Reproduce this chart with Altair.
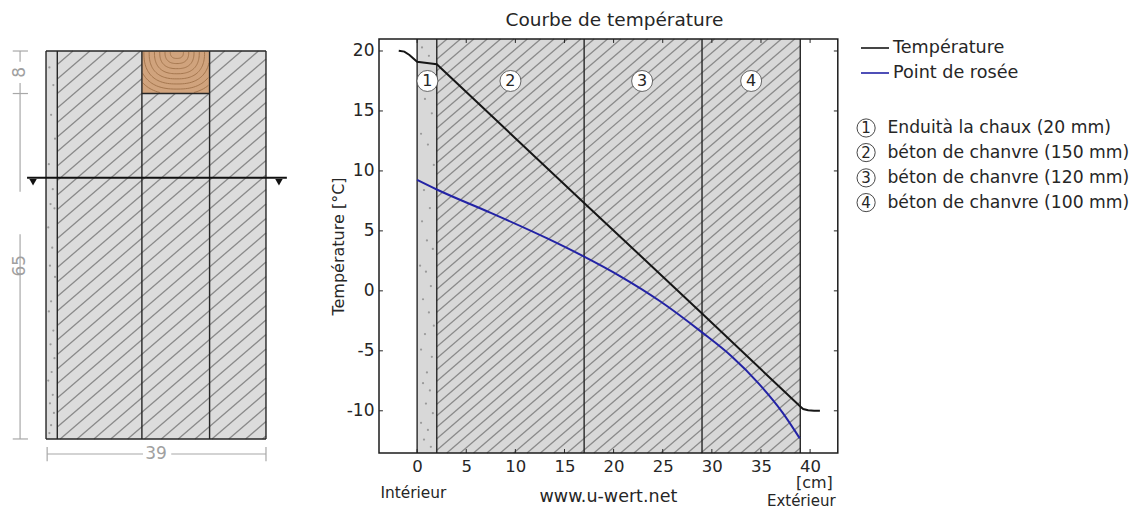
import altair as alt
import pandas as pd
import math

FONT = "DejaVu Sans"
DARK = "#262626"
GREY = "#a8a8a8"

# ---- temperature chart values ----
t_x = [-1.87, -1.3, -0.78, -0.35, 0.0, 1.0, 2.0, 17.0, 29.0, 39.0, 39.3, 39.8, 40.4, 41.0]
t_y = [20.02, 19.95, 19.67, 19.35, 19.1, 19.0, 18.9, 7.33, -1.88, -9.65, -9.85, -9.95, -9.99, -10.0]
d_x = [0.0, 2.0, 7.5, 13.3, 17.0, 20.6, 24.7, 28.9, 32.0, 34.8, 37.2, 38.95]
d_y = [9.25, 8.45, 6.5, 4.35, 2.85, 1.25, -0.85, -3.4, -5.45, -7.75, -10.15, -12.3]
layers = [0, 2, 17, 29, 39]
x_ticks = [0, 5, 10, 15, 20, 25, 30, 35, 40]
y_ticks = [-10, -5, 0, 5, 10, 15, 20]
X_DOM = [-3.88, 42.82]
Y_DOM = [-13.52, 21.0]

circ_x = [1.05, 9.5, 22.9, 34.0]
circ_y = [17.5, 17.5, 17.5, 17.5]
circ_lab = ["1", "2", "3", "4"]
key_y = [13.58, 11.53, 9.42, 7.36]
key_lab = ["Enduità la chaux (20 mm)", "béton de chanvre (150 mm)",
           "béton de chanvre (120 mm)", "béton de chanvre (100 mm)"]
note_lab = ["Intérieur", "www.u-wert.net", "[cm]", "Extérieur"]
note_x = [-0.38, 19.47, 40.44, 39.1]
note_y = [-16.83, -17.17, -16.05, -17.55]

speck_x = [0.5, 1.2, 0.8, 1.5, 0.4, 1.1, 1.7, 0.7, 1.3, 0.5, 1.0, 1.6, 0.3, 0.9, 1.4, 0.6, 1.2, 1.7, 0.8, 0.4, 1.5, 1.0, 0.6, 1.3, 0.9, 1.6, 0.4, 1.1, 0.7, 1.4]
speck_y = [20.3, 19.6, 16.0, 14.8, 13.1, 12.2, 10.5, 8.4, 6.9, 5.8, 4.2, 3.5, 2.1, 1.6, 0.4, -0.7, -1.8, -2.9, -3.6, -4.9, -5.5, -6.8, -7.7, -8.3, -9.4, -10.2, -11.0, -11.6, -12.4, -13.0]

# ---- wall section values (cm) ----
wall_x = [0, 2, 17, 29, 39]
wall_h = 73
wood_h = 8
section_y = 23.84
W_XDOM = [-6.74, 50.35]
W_YDOM = [75.64, -2.26]
wall_specks_x = [0.6, 1.3, 0.9, 1.6, 0.5, 1.2, 0.8, 1.5, 0.4, 1.1, 0.7, 1.6, 0.9, 0.5, 1.3, 0.8, 1.5, 1.0, 0.4, 1.2, 0.7, 1.4, 0.9, 0.6]
wall_specks_y = [3.1, 6.4, 12.0, 16.5, 21.3, 26.0, 28.8, 29.6, 33.2, 37.0, 40.4, 42.5, 47.1, 49.0, 52.6, 55.2, 57.8, 60.4, 62.0, 64.7, 66.3, 68.1, 70.4, 71.9]

SX, SY = 9.825, 12.0
WX, WY = 5.641, 5.315


def hatch(x0, x1, y0, y1, sx, sy, step, slope, phase, y_up=True):
    """Diagonal hatch segments clipped to a rectangle, in data units."""
    W, H = (x1 - x0) * sx, abs(y1 - y0) * sy
    rows = []
    c = -W * slope + phase
    while c < H:
        u0 = max(0, -c / slope)
        u1 = min(W, (H - c) / slope)
        if u1 > u0:
            v0, v1 = slope * u0 + c, slope * u1 + c
            if y_up:
                rows.append(dict(x=x0 + u0 / sx, x2=x0 + u1 / sx, y=y0 + v0 / sy, y2=y0 + v1 / sy))
            else:
                rows.append(dict(x=x0 + u0 / sx, x2=x0 + u1 / sx, y=y0 - v0 / sy, y2=y0 - v1 / sy))
        c += step
    return pd.DataFrame(rows)


# ================= left panel: wall section =================
wx = alt.Scale(domain=W_XDOM, nice=False, zero=False)
wy = alt.Scale(domain=W_YDOM, nice=False, zero=False)
WXE = alt.X("x:Q", scale=wx, axis=None)
WYE = alt.Y("y:Q", scale=wy, axis=None)


def wseg(df, **kw):
    return alt.Chart(df).mark_rule(**kw).encode(x=WXE, x2="x2:Q", y=WYE, y2="y2:Q")


fill = alt.Chart(pd.DataFrame([dict(x=0, x2=39, y=0, y2=wall_h)])).mark_rect(color="#dcdcdc").encode(
    x=WXE, x2="x2:Q", y=WYE, y2="y2:Q")
w_hatch = wseg(hatch(2, 39, wall_h, 0, WX, WY, 14.5, 0.86, 3, y_up=False), color="#8a8a8a", strokeWidth=1.3)
w_specks = alt.Chart(pd.DataFrame(dict(x=wall_specks_x, y=wall_specks_y))).mark_circle(size=5, color="#9a9a9a", opacity=1).encode(
    x=WXE, y=WYE)
wood = alt.Chart(pd.DataFrame([dict(x=17, x2=29, y=0, y2=wood_h)])).mark_rect(color="#d0a37d").encode(
    x=WXE, x2="x2:Q", y=WYE, y2="y2:Q")

# growth rings of the beam
ring_rows = []
for i, r in enumerate([1.5, 2.7, 3.9, 5.1, 6.3, 7.5, 8.7, 9.9]):
    seg_id = 0
    prev = False
    for k in range(61):
        t = math.pi * k / 60
        rx = r * 0.78
        ry = r * 0.80
        px = 23.2 + rx * (abs(math.cos(t)) ** 0.8) * (1 if math.cos(t) >= 0 else -1)
        py = 0.2 + ry * (math.sin(t) ** 0.8)
        ok = 17.1 < px < 28.9 and py < 7.9
        if ok and not prev:
            seg_id += 1
        if ok:
            ring_rows.append(dict(x=px, y=py, g=f"{i}-{seg_id}", o=k))
        prev = ok
rings = alt.Chart(pd.DataFrame(ring_rows)).mark_line(color="#a5774f", strokeWidth=1).encode(
    x=WXE, y=WYE, detail="g:N", order="o:Q")

wall_lines = [dict(x=v, x2=v, y=0, y2=wall_h) for v in wall_x]
wall_lines += [dict(x=0, x2=39, y=0, y2=0), dict(x=0, x2=39, y=wall_h, y2=wall_h), dict(x=17, x2=29, y=wood_h, y2=wood_h)]
w_lines = wseg(pd.DataFrame(wall_lines), color=DARK, strokeWidth=1.4)
w_sec = wseg(pd.DataFrame([dict(x=-3.36, x2=42.7, y=section_y, y2=section_y)]), color="#111111", strokeWidth=2)
w_tri = alt.Chart(pd.DataFrame(dict(x=[-2.3, 41.3], y=[section_y + 0.85, section_y + 0.85]))).mark_point(
    shape="triangle-down", size=55, filled=True, color="#111111", opacity=1).encode(x=WXE, y=WYE)

dim_rows = [
    dict(x=-4.6, x2=-4.6, y=0, y2=2.0), dict(x=-4.6, x2=-4.6, y=6.0, y2=26.5), dict(x=-4.6, x2=-4.6, y=34.5, y2=73),
    dict(x=-5.9, x2=-3.2, y=0, y2=0), dict(x=-5.9, x2=-3.2, y=8, y2=8), dict(x=-5.9, x2=-3.2, y=73, y2=73),
    dict(x=0.2, x2=17.2, y=75.83, y2=75.83), dict(x=22.2, x2=39, y=75.83, y2=75.83),
    dict(x=0.2, x2=0.2, y=74.5, y2=77.2), dict(x=39, x2=39, y=74.5, y2=77.2),
]
w_dim = wseg(pd.DataFrame(dim_rows), color=GREY, strokeWidth=1.2)
w_dimv = alt.Chart(pd.DataFrame(dict(x=[-4.6, -4.6], y=[4.0, 40.4], t=["8", "65"]))).mark_text(
    angle=270, font=FONT, fontSize=17, color="#a0a0a0").encode(x=WXE, y=WYE, text="t:N")
w_dimh = alt.Chart(pd.DataFrame(dict(x=[19.5], y=[75.83], t=["39"]))).mark_text(
    font=FONT, fontSize=17, color="#a0a0a0").encode(x=WXE, y=WYE, text="t:N")

left = alt.layer(fill, w_hatch, w_specks, wood, rings, w_lines, w_sec, w_tri, w_dim, w_dimv, w_dimh).properties(
    width=322, height=414, title=alt.TitleParams(" ", fontSize=18.5, font=FONT, fontWeight="normal", offset=4))

# ================= right panel: temperature chart =================
sx = alt.Scale(domain=X_DOM, nice=False, zero=False)
sy = alt.Scale(domain=Y_DOM, nice=False, zero=False)
xn = alt.X("x:Q", scale=sx, title=None, axis=alt.Axis(values=x_ticks, tickSize=0, domain=False, grid=False,
           labelFont=FONT, labelFontSize=16.5, labelColor=DARK, labelPadding=5, labelExpr="toString(datum.value)"))
yn = alt.Y("y:Q", scale=sy, title="Température [°C]", axis=alt.Axis(values=y_ticks, tickSize=0, domain=False, grid=False,
           labelFont=FONT, labelFontSize=17, labelColor=DARK, labelPadding=5, labelExpr="toString(datum.value)", titleFont=FONT,
           titleFontSize=16, titleFontWeight="normal", titleColor=DARK, titlePadding=0))


def mseg(df, **kw):
    return alt.Chart(df).mark_rule(**kw).encode(x=xn, x2="x2:Q", y=yn, y2="y2:Q")


bg = alt.Chart(pd.DataFrame([dict(x=0, x2=39, y=Y_DOM[0], y2=Y_DOM[1])])).mark_rect(color="#d8d8d8").encode(
    x=xn, x2="x2:Q", y=yn, y2="y2:Q")
m_hatch = mseg(hatch(2, 39, Y_DOM[0], Y_DOM[1], SX, SY, 11.5, 0.86, 5), color="#8a8a8a", strokeWidth=1.3)
m_specks = alt.Chart(pd.DataFrame(dict(x=speck_x, y=speck_y))).mark_circle(size=5, color="#9a9a9a", opacity=1).encode(x=xn, y=yn)
m_layers = mseg(pd.DataFrame([dict(x=v, x2=v, y=Y_DOM[0], y2=Y_DOM[1]) for v in layers]), color=DARK, strokeWidth=1.4)

color_enc = alt.Color("s:N", scale=alt.Scale(domain=["Température", "Point de rosée"], range=["#161616", "#2323a5"]),
                      legend=alt.Legend(title=None, orient="none", legendX=481, legendY=-6, symbolType="stroke",
                                        symbolSize=784, symbolStrokeWidth=1.6, labelFont=FONT, labelFontSize=17.6,
                                        labelColor=DARK, labelOffset=3, rowPadding=1))
t_df = pd.DataFrame(dict(x=t_x, y=t_y, s="Température", o=range(len(t_x))))
d_df = pd.DataFrame(dict(x=d_x, y=d_y, s="Point de rosée", o=range(len(d_x))))
curve_t = alt.Chart(t_df).mark_line(strokeWidth=2).encode(x=xn, y=yn, order="o:Q", color=color_enc)
curve_d = alt.Chart(d_df).mark_line(strokeWidth=2, interpolate="monotone").encode(x=xn, y=yn, order="o:Q", color=color_enc)

tick_rows = []
for v in y_ticks:
    tick_rows.append(dict(x=X_DOM[0], x2=X_DOM[0] + 0.4, y=v, y2=v))
    tick_rows.append(dict(x=X_DOM[1] - 0.4, x2=X_DOM[1], y=v, y2=v))
for v in x_ticks:
    tick_rows.append(dict(x=v, x2=v, y=Y_DOM[0], y2=Y_DOM[0] + 0.33))
    tick_rows.append(dict(x=v, x2=v, y=Y_DOM[1] - 0.33, y2=Y_DOM[1]))
m_ticks = mseg(pd.DataFrame(tick_rows), color=DARK, strokeWidth=1)

frame = alt.Chart(pd.DataFrame([dict(x=X_DOM[0], x2=X_DOM[1], y=Y_DOM[0], y2=Y_DOM[1])])).mark_rect(
    fillOpacity=0, stroke="#1c1c1c", strokeWidth=1.5).encode(x=xn, x2="x2:Q", y=yn, y2="y2:Q")

cdf = pd.DataFrame(dict(x=circ_x, y=circ_y, t=circ_lab))
circ = alt.Chart(cdf).mark_point(shape="circle", size=440, filled=True, color="white", stroke="#444444",
                                 strokeWidth=0.8, opacity=1).encode(x=xn, y=yn)
circ_t = alt.Chart(cdf).mark_text(font=FONT, fontSize=16, color=DARK).encode(x=xn, y=yn, text="t:N")

kdf = pd.DataFrame(dict(x=[45.7] * 4, xt=[47.87] * 4, y=key_y, n=circ_lab, t=key_lab))
key_c = alt.Chart(kdf).mark_point(shape="circle", size=330, filled=False, color="#333333", strokeWidth=0.9, opacity=1).encode(x=xn, y=yn)
key_n = alt.Chart(kdf).mark_text(font=FONT, fontSize=15, color=DARK).encode(x=xn, y=yn, text="n:N")
xt = alt.X("xt:Q", scale=sx, title=None, axis=alt.Axis(values=x_ticks, tickSize=0, domain=False, grid=False,
           labelFont=FONT, labelFontSize=16.5, labelColor=DARK, labelPadding=5, labelExpr="toString(datum.value)"))
key_t = alt.Chart(kdf).mark_text(font=FONT, fontSize=17.2, color=DARK, align="left").encode(x=xt, y=yn, text="t:N")

ndf = pd.DataFrame(dict(x=note_x, y=note_y, t=note_lab, f=[15.4, 17.5, 16, 15]))
notes = alt.Chart(ndf).mark_text(font=FONT, color=DARK).encode(
    x=xn, y=yn, text="t:N", size=alt.Size("f:Q", scale=None, legend=None))

main = alt.layer(bg, m_hatch, m_specks, m_layers, curve_t, curve_d, m_ticks, frame, circ, circ_t,
                 key_c, key_n, key_t, notes).properties(
    width=458.8, height=414,
    title=alt.TitleParams("Courbe de température", fontSize=18.5, font=FONT, fontWeight="normal", color=DARK, offset=4, dx=6))

chart = alt.hconcat(left, main, spacing=0).resolve_scale(color="independent").configure_view(stroke=None).properties(
    padding={"top": 2, "left": 0, "right": 0, "bottom": 0})
chart.save("out.html", embed_options={"renderer": "svg", "actions": False})
